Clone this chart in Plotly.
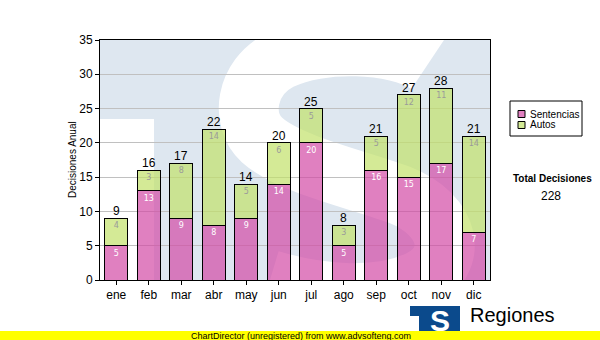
import plotly.graph_objects as go

# Monthly decisions, split by type
months = ["ene", "feb", "mar", "abr", "may", "jun", "jul", "ago", "sep", "oct", "nov", "dic"]
sentencias = [5, 13, 9, 8, 9, 14, 20, 5, 16, 15, 17, 7]
autos = [4, 3, 8, 14, 5, 6, 5, 3, 5, 12, 11, 14]
totals = [s + a for s, a in zip(sentencias, autos)]
grand_total = sum(totals)

W, H = 600, 340
L, R, T, B = 100, 110, 40, 60
Y_MAX = 35

PINK = "rgba(211,74,165,0.7)"
GREEN = "rgba(194,225,105,0.7)"
WM_BLUE = "#dee7f0"
FONT = "Liberation Sans, Arial, sans-serif"
SMALL = "DejaVu Sans, Verdana, sans-serif"

plot_w = W - L - R
plot_h = H - T - B


def px_x(px):
    """pixel x -> paper x"""
    return (px - L) / plot_w


def px_y(py):
    """pixel y -> paper y"""
    return (H - B - py) / plot_h


def dx(px):
    """pixel x -> data x (category index axis)"""
    return -0.5 + (px - L) / plot_w * len(months)


def dy(py):
    """pixel y -> data y"""
    return (H - B - py) / plot_h * Y_MAX


def path_from(cmds):
    out = []
    for c in cmds:
        op, pts = c[0], c[1:]
        out.append(op + " " + " ".join("{:.4f},{:.4f}".format(dx(a), dy(b)) for a, b in pts))
    return " ".join(out)


def note(px, py, text, size, xanchor="center", yanchor="middle", family=FONT, color="black", angle=0):
    return dict(
        x=px_x(px), y=px_y(py), xref="paper", yref="paper", text=text,
        showarrow=False, xanchor=xanchor, yanchor=yanchor, textangle=angle,
        font=dict(family=family, size=size, color=color),
    )


xs = list(range(len(months)))

fig = go.Figure()
fig.add_trace(go.Bar(
    x=xs, y=sentencias, name="Sentencias", width=0.71,
    marker=dict(color=PINK, line=dict(color="black", width=1)),
    text=[str(v) for v in sentencias], textposition="inside",
    insidetextanchor="end", textangle=0,
    insidetextfont=dict(family=SMALL, size=8, color="white"),
))
fig.add_trace(go.Bar(
    x=xs, y=autos, name="Autos", width=0.71,
    marker=dict(color=GREEN, line=dict(color="black", width=1)),
    text=[str(v) for v in autos], textposition="inside",
    insidetextanchor="end", textangle=0,
    insidetextfont=dict(family=SMALL, size=8, color="#9a9a9a"),
))

annotations = []
for i, t in enumerate(totals):
    annotations.append(dict(
        x=i, y=t, xref="x", yref="y", text=str(t), showarrow=False,
        xanchor="center", yanchor="bottom", yshift=-2,
        font=dict(family=FONT, size=12, color="black"),
    ))

shapes = []
# Watermark logo behind the grid: white T-gap and a white S on the light blue background
shapes.append(dict(
    type="rect", xref="x", yref="y", layer="below",
    x0=dx(90), x1=dx(154), y0=dy(290), y1=dy(119),
    fillcolor="white", line=dict(width=0),
))
s_path = path_from([
    ("M", (428, 64)),
    ("C", (395, 42), (320, 40), (280, 60)),
    ("C", (245, 78), (240, 120), (262, 140)),
    ("C", (290, 165), (360, 180), (400, 195)),
    ("C", (450, 215), (460, 260), (420, 280)),
    ("C", (380, 300), (320, 295), (270, 280)),
])
shapes.append(dict(
    type="path", xref="x", yref="y", layer="below", path=s_path,
    line=dict(color="white", width=60),
))

# Legend box
shapes.append(dict(
    type="rect", xref="paper", yref="paper",
    x0=px_x(510), x1=px_x(582), y0=px_y(136), y1=px_y(101),
    line=dict(color="black", width=1), fillcolor="white",
))
legend_items = [("Sentencias", PINK, 114), ("Autos", GREEN, 125)]
for label, color, cy in legend_items:
    shapes.append(dict(
        type="rect", xref="paper", yref="paper",
        x0=px_x(518), x1=px_x(525), y0=px_y(cy + 3.5), y1=px_y(cy - 3.5),
        line=dict(color="black", width=1), fillcolor=color,
    ))
    annotations.append(note(528, cy, label, 10, xanchor="left"))

annotations.append(note(552, 178, "<b>Total Decisiones</b>", 10))
annotations.append(note(551, 196, str(grand_total), 12))

# Axis title
annotations.append(note(72, 160, "Decisiones Anual", 10, angle=-90))

# Corner logo
shapes.append(dict(
    type="rect", xref="paper", yref="paper",
    x0=px_x(410), x1=px_x(460), y0=px_y(332), y1=px_y(306),
    line=dict(width=0), fillcolor="#0b4a8c",
))
shapes.append(dict(
    type="rect", xref="paper", yref="paper",
    x0=px_x(410), x1=px_x(419), y0=px_y(332), y1=px_y(316),
    line=dict(width=0), fillcolor="white",
))
annotations.append(note(440, 320, "<b>S</b>", 30, color="white"))
annotations.append(note(468, 315, "Regiones", 20, xanchor="left"))

# Footer strip
shapes.append(dict(
    type="rect", xref="paper", yref="paper",
    x0=px_x(0), x1=px_x(W), y0=px_y(H), y1=px_y(331),
    line=dict(width=0), fillcolor="#ffff00",
))
annotations.append(note(301, 335.5, "ChartDirector (unregistered) from www.advsofteng.com", 9))

fig.update_layout(
    width=W, height=H,
    margin=dict(l=L, r=R, t=T, b=B),
    barmode="stack",
    showlegend=False,
    paper_bgcolor="white",
    plot_bgcolor=WM_BLUE,
    font=dict(family=FONT, size=12, color="black"),
    shapes=shapes,
    annotations=annotations,
)
fig.update_xaxes(
    range=[-0.5, len(months) - 0.5],
    tickvals=xs, ticktext=months,
    showgrid=False, zeroline=False,
    showline=True, linecolor="black", linewidth=1, mirror=True,
    ticks="outside", ticklen=4, tickcolor="black",
    tickfont=dict(family=FONT, size=12, color="black"),
)
fig.update_yaxes(
    range=[0, Y_MAX], dtick=5,
    showgrid=True, gridcolor="#c0c0c0", gridwidth=1, zeroline=False,
    showline=True, linecolor="black", linewidth=1, mirror=True,
    ticks="outside", ticklen=4, tickcolor="black",
    tickfont=dict(family=FONT, size=12, color="black"),
)

fig.write_html("out.html")
